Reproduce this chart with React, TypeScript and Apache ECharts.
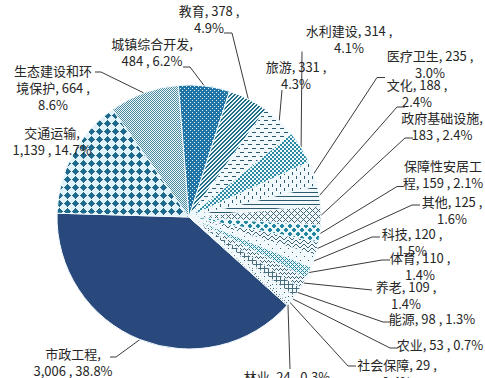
import React, { useEffect, useRef } from 'react';
import * as echarts from 'echarts';

const categories = ['市政工程', '交通运输', '生态建设和环境保护', '城镇综合开发', '教育', '旅游', '水利建设', '医疗卫生', '文化', '政府基础设施', '保障性安居工程', '其他', '科技', '体育', '养老', '能源', '农业', '社会保障', '林业'];
const values = [3006, 1139, 664, 484, 378, 331, 314, 235, 188, 183, 159, 125, 120, 110, 109, 98, 53, 29, 24];
// how each label wraps: n = after name, v = after value, '' = one line, w = name wrapped after 6 chars
const labelWrap = ['n', 'n', 'wv', 'n', 'v', 'v', 'v', 'v', 'v', 'n', 'w', 'v', 'v', 'v', 'v', '', '', 'v', ''];

// layout only: label centre x,y ; leader attach offset dx,dy ; tick length (-1 = no leader)
const labelPlace: number[][] = [
  [73, 362, 37, -5, 6],
  [52, 141, 0, 0, -1],
  [53, 87, 42, -15, 6],
  [152, 52, 31, 15, 7],
  [209, 18.5, 15, 14.5, 8],
  [296, 75, -14, 15, 0],
  [349, 38.5, -47, 13, 0],
  [430, 63.5, -45, 14, 8],
  [417, 92.5, -12, 14.5, 8],
  [442, 126, -29, 12, 8],
  [443, 173.5, -40, 13, 6],
  [452, 210, -32, -5, 8],
  [412, 241.5, -32, -4.5, 8],
  [420, 265.5, -30, -5.5, 8],
  [406, 294.5, -34, -4.5, 0],
  [432, 318, -41, 4, 8],
  [440, 344, -42, 4, 8],
  [397, 373, -41, -7, 8],
  [287, 376, 3, -7, 0],
];

const total = values.reduce((a, b) => a + b, 0);

function labelText(i: number): string {
  const name = categories[i];
  const v = values[i].toLocaleString('en-US');
  const p = ((values[i] / total) * 100).toFixed(1) + '%';
  const w = labelWrap[i];
  let head = name;
  if (w.startsWith('w')) head = name.slice(0, 6) + '\n' + name.slice(6);
  const mode = w.replace('w', '');
  if (mode === 'n') return `${head},\n${v} , ${p}`;
  if (mode === 'v') return `${head}, ${v} ,\n${p}`;
  return `${head}, ${v} , ${p}`;
}

function makePattern(rows: string[], fg: string, bg: string) {
  const h = rows.length;
  const w = rows[0].length;
  const c = document.createElement('canvas');
  c.width = w;
  c.height = h;
  const ctx = c.getContext('2d')!;
  ctx.fillStyle = bg;
  ctx.fillRect(0, 0, w, h);
  ctx.fillStyle = fg;
  rows.forEach((row, y) => {
    for (let x = 0; x < w; x++) if (row[x] === 'X') ctx.fillRect(x, y, 1, 1);
  });
  return { image: c.toDataURL(), repeat: 'repeat', imageWidth: w, imageHeight: h };
}

const LIGHT = '#f1f9fc';
const DARKLINE = '#2e5a70';

function buildFills(): any[] {
  return [
    '#29497d',
    makePattern(['...X....', '..XXX...', '.XXXXX..', 'XXXXXXX.', '.XXXXX..', '..XXX...', '...X....', '........'], '#1f6a8c', '#e1f3f8'),
    makePattern(['X.', '.X'], '#4f8ca2', '#e8f5f9'),
    makePattern(['X...', '....', '..X.', '....'], '#e8f6fa', '#1f74a5'),
    makePattern(['XX..', 'X..X', '..XX', '.XX.'], '#226c88', '#eaf7fb'),
    makePattern(['XXXX....', '........', '........', '........', '....XXXX', '........', '........', '........'], DARKLINE, LIGHT),
    makePattern(['XX..', 'XX..', '..XX', '..XX'], '#2b8ba5', '#eef8fb'),
    makePattern(['X.......', 'X.......', 'X.......', '........', '....X...', '....X...', '....X...', '........'], DARKLINE, LIGHT),
    makePattern(['X', '.', '.', '.'], DARKLINE, LIGHT),
    makePattern(['X.....', '.X...X', '..X.X.', '...X..', '..X.X.', '.X...X'], '#44687a', LIGHT),
    makePattern(['.XX.....', 'XXXX....', 'XXXX....', '.XX.....', '.....XX.', '....XXXX', '....XXXX', '.....XX.'], '#24879f', '#e9f6fa'),
    makePattern(['X......X', '.X....X.', '..X..X..', '...XX...'], '#3b6275', LIGHT),
    makePattern(['X.......', '........', '........', '........', '....X...', '........', '........', '........'], '#3b6275', LIGHT),
    makePattern(['X...', '.X.X', '..X.', '.X.X'], '#2a8aa3', '#eaf6fa'),
    makePattern(['X...X...', '.X.X.X.X', '..X...X.', '........'], '#3b6275', LIGHT),
    makePattern(['XXXX', 'X...', 'X...', 'X...'], '#4a6d7d', LIGHT),
    makePattern(['X...', '....', '....', '....'], '#3b6275', LIGHT),
    makePattern(['X..', '...', '...'], '#3b6275', LIGHT),
    makePattern(['X.', '..'], '#4a6d7d', LIGHT),
  ];
}

export default function App() {
  const ref = useRef<HTMLDivElement>(null);
  useEffect(() => {
    document.body.style.margin = '0';
    const chart = echarts.init(ref.current!, null, { renderer: 'svg' });
    const fills = buildFills();
    chart.setOption({
      animation: false,
      backgroundColor: '#ffffff',
      series: [
        {
          type: 'pie',
          center: [189, 217],
          radius: 132,
          startAngle: 318,
          clockwise: true,
          avoidLabelOverlap: false,
          emphasis: { disabled: true },
          itemStyle: { borderColor: '#f2fafd', borderWidth: 1 },
          label: {
            show: true,
            position: 'outside',
            formatter: (p: any) => labelText(p.dataIndex),
            fontFamily: '"Noto Sans CJK SC", "Noto Sans", sans-serif',
            fontSize: 13,
            lineHeight: 17,
            color: '#262626',
            align: 'center',
          },
          labelLine: { show: true, length: 6, length2: 6, lineStyle: { color: '#3a3a3a', width: 1 } },
          labelLayout: (params: any) => {
            const i = params.dataIndex;
            const [cx, cy, ax, ay, tick] = labelPlace[i];
            const res: any = { x: cx, y: cy, align: 'center', verticalAlign: 'middle' };
            if (tick >= 0 && params.labelLinePoints) {
              const p0 = [params.labelLinePoints[0][0], params.labelLinePoints[0][1]];
              const a = [cx + ax, cy + ay];
              const e = [a[0] + (ax < 0 ? -tick : tick), a[1]];
              res.labelLinePoints = [p0, e, a];
            }
            return res;
          },
          data: categories.map((name, i) => ({
            name,
            value: values[i],
            itemStyle: { color: fills[i] },
            labelLine: { show: labelPlace[i][4] >= 0 },
          })),
        },
      ],
    });
    return () => chart.dispose();
  }, []);
  return <div ref={ref} style={{ position: 'absolute', left: 0, top: 0, width: 485, height: 378 }} />;
}
